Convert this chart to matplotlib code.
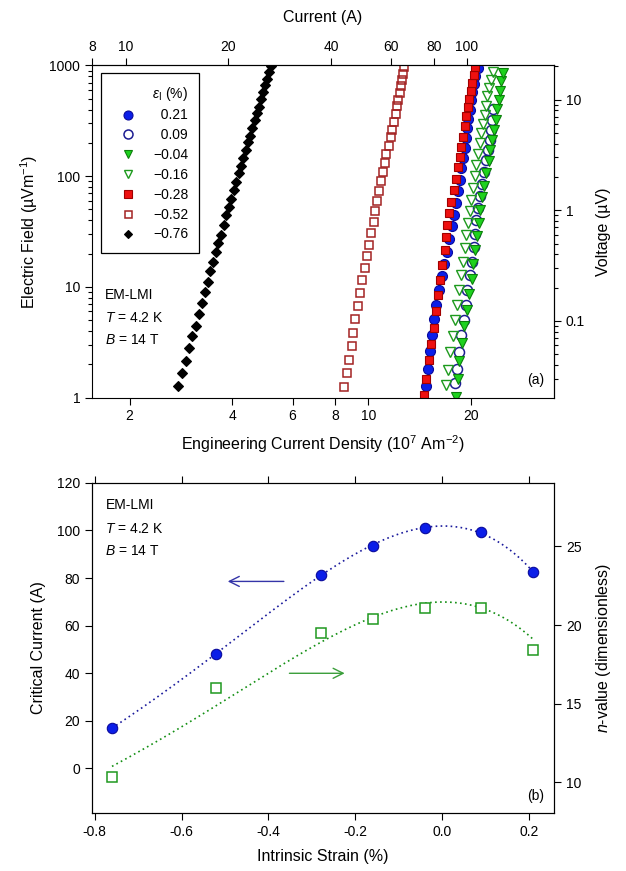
import numpy as np
import matplotlib
matplotlib.use("Agg")
import matplotlib.pyplot as plt
from matplotlib.lines import Line2D
from matplotlib.ticker import FixedLocator, NullLocator, LogLocator, FixedFormatter

plt.rcParams['font.family'] = ['Liberation Sans', 'DejaVu Sans']
plt.rcParams['mathtext.fontset'] = 'custom'
plt.rcParams['mathtext.rm'] = 'Liberation Sans'
plt.rcParams['mathtext.it'] = 'Liberation Sans:italic'
plt.rcParams['axes.unicode_minus'] = False

# ---- panel (a): E-J curves, one per intrinsic strain (%) ----
strain_labels = ["0.21", "0.09", "-0.04", "-0.16", "-0.28", "-0.52", "-0.76"]

# engineering current density (1e7 A/m^2) and electric field (uV/m)
j_p021 = [14.78, 14.98, 15.15, 15.39, 15.60, 15.81, 16.13, 16.43, 16.69, 16.96,
          17.28, 17.55, 17.81, 18.10, 18.30, 18.51, 18.72, 18.93, 19.15, 19.28,
          19.45, 19.62, 19.81, 20.02, 20.16, 20.35, 20.57, 20.95]
e_p021 = [1.27, 1.82, 2.66, 3.67, 5.07, 6.92, 9.45, 12.5, 16.2, 20.8,
          26.8, 35.1, 45.0, 57.4, 73.0, 93.2, 119, 146, 180, 222,
          273, 329, 400, 485, 577, 686, 799, 947]

j_p009 = [17.89, 18.18, 18.43, 18.72, 19.03, 19.28, 19.51, 19.81, 20.16, 20.35,
          20.57, 20.71, 20.95, 21.28, 21.57, 21.81, 22.16, 22.41, 22.67, 22.87,
          23.02, 23.23]
e_p009 = [1.35, 1.82, 2.57, 3.67, 5.03, 6.92, 9.40, 12.7, 16.9, 22.9,
          30.3, 39.9, 51.7, 65.8, 85.4, 109, 139, 174, 214, 264,
          325, 404]

j_m004 = [18.10, 18.30, 18.49, 18.80, 19.12, 19.45, 19.78, 20.07, 20.32, 20.59,
          20.83, 21.05, 21.30, 21.57, 21.86, 22.16, 22.52, 22.76, 23.07, 23.33,
          23.60, 23.86, 24.14, 24.35, 24.51, 24.80]
e_m004 = [1.01, 1.48, 2.16, 3.14, 4.41, 6.24, 8.70, 11.7, 16.1, 21.6,
          28.7, 37.9, 49.9, 65.0, 82.3, 107, 136, 171, 214, 264,
          325, 405, 485, 585, 720, 858]

j_m016 = [16.84, 17.11, 17.40, 17.70, 17.89, 18.14, 18.43, 18.72, 18.93, 19.15,
          19.36, 19.58, 19.81, 20.02, 20.25, 20.49, 20.71, 20.95, 21.19, 21.42,
          21.67, 21.92, 22.07, 22.31, 22.57, 22.83, 23.18]
e_m016 = [1.31, 1.79, 2.57, 3.61, 5.03, 6.85, 9.40, 12.7, 16.9, 22.5,
          29.4, 37.9, 48.2, 61.4, 78.4, 99.8, 125, 157, 200, 246,
          299, 360, 434, 527, 628, 735, 868]

j_m028 = [14.52, 14.72, 15.02, 15.29, 15.54, 15.75, 15.96, 16.18, 16.47, 16.74,
          16.84, 16.99, 17.19, 17.50, 17.81, 18.02, 18.26, 18.51, 18.71, 18.93,
          19.15, 19.36, 19.58, 19.72, 19.98, 20.16, 20.35, 20.49]
e_m028 = [1.06, 1.48, 2.17, 3.07, 4.26, 6.02, 8.52, 11.6, 15.9, 21.4,
          28.0, 36.5, 46.6, 58.1, 75.7, 95.1, 120, 149, 184, 226,
          286, 348, 419, 499, 585, 697, 828, 971]

j_m052 = [8.48, 8.65, 8.80, 8.95, 9.05, 9.17, 9.32, 9.43, 9.59, 9.77,
          9.92, 10.03, 10.22, 10.36, 10.50, 10.61, 10.74, 10.91, 11.03, 11.16,
          11.28, 11.47, 11.62, 11.75, 11.88, 12.02, 12.15, 12.23, 12.35, 12.43,
          12.54, 12.62, 12.71]
e_m052 = [1.24, 1.65, 2.18, 2.91, 3.84, 5.14, 6.68, 8.83, 11.5, 14.8,
          18.9, 24.1, 30.7, 38.7, 48.2, 59.8, 73.6, 89.9, 109, 132,
          158, 189, 225, 264, 307, 365, 428, 492, 566, 649,
          735, 845, 971]

j_m076 = [2.78, 2.85, 2.92, 2.99, 3.05, 3.12, 3.19, 3.25, 3.32, 3.39,
          3.45, 3.51, 3.58, 3.64, 3.71, 3.77, 3.84, 3.91, 3.97, 4.04,
          4.11, 4.18, 4.24, 4.31, 4.38, 4.45, 4.51, 4.58, 4.65, 4.72,
          4.78, 4.85, 4.92, 4.99, 5.05, 5.12, 5.19]
e_m076 = [1.28, 1.65, 2.16, 2.81, 3.58, 4.47, 5.74, 7.17, 8.94, 11.0,
          13.8, 16.7, 20.5, 25.0, 29.7, 36.5, 44.2, 53.2, 62.3, 74.7,
          89.2, 106, 123, 146, 172, 203, 233, 274, 320, 374,
          426, 495, 574, 664, 752, 867, 998]

j_series = [j_p021, j_p009, j_m004, j_m016, j_m028, j_m052, j_m076]
e_series = [e_p021, e_p009, e_m004, e_m016, e_m028, e_m052, e_m076]

# ---- panel (b): critical current and n-value vs intrinsic strain ----
strain = [-0.76, -0.52, -0.28, -0.16, -0.04, 0.09, 0.21]
ic = [17.0, 48.2, 81.5, 93.6, 101.0, 99.2, 82.4]
nval = [10.3, 16.0, 19.5, 20.4, 21.1, 21.1, 18.4]

AMP_PER_J = 5.14      # A per 1e7 A/m^2
LENGTH = 0.0203       # m, voltage tap separation

styles = [
    dict(marker='o', ms=7.2, mfc='#0b1ee8', mec='#0a0a9c', mew=0.8),
    dict(marker='o', ms=7.2, mfc='none', mec='#1c1c92', mew=1.1),
    dict(marker='v', ms=7.0, mfc='#1ed21e', mec='#0b7f0b', mew=0.8),
    dict(marker='v', ms=7.0, mfc='none', mec='#1d9a1d', mew=1.0),
    dict(marker='s', ms=6.0, mfc='#ee1010', mec='#a00000', mew=0.8),
    dict(marker='s', ms=5.6, mfc='none', mec='#a32222', mew=1.1),
    dict(marker='D', ms=4.8, mfc='black', mec='black', mew=0.8),
]

fig = plt.figure(figsize=(6.26, 8.71), dpi=100)
ax = fig.add_axes([0.147, 0.5436, 0.738, 0.3812])

for j, e, st in zip(j_series, e_series, styles):
    ax.plot(j, e, linestyle='none', **st)

ax.set_xscale('log')
ax.set_yscale('log')
ax.set_xlim(1.552, 35.0)
ax.set_ylim(1, 1000)

ax.xaxis.set_major_locator(FixedLocator([2, 4, 6, 8, 10, 20]))
ax.xaxis.set_major_formatter(FixedFormatter(['2', '4', '6', '8', '10', '20']))
ax.xaxis.set_minor_locator(NullLocator())
ax.yaxis.set_major_locator(FixedLocator([1, 10, 100, 1000]))
ax.yaxis.set_major_formatter(FixedFormatter(['1', '10', '100', '1000']))
ax.yaxis.set_minor_locator(LogLocator(base=10, subs=np.arange(2, 10)))
ax.yaxis.set_minor_formatter(FixedFormatter([]))
ax.tick_params(which='both', direction='out', labelsize=10, width=0.8)
ax.tick_params(which='major', length=5)
ax.tick_params(which='minor', length=3)
ax.set_xlabel(r'Engineering Current Density (10$^{7}$ Am$^{-2}$)', fontsize=11.5, labelpad=7)
ax.set_ylabel(r'Electric Field (µVm$^{-1}$)', fontsize=11.5, labelpad=7)

top = ax.secondary_xaxis('top', functions=(lambda x: x * AMP_PER_J, lambda x: x / AMP_PER_J))
top.xaxis.set_major_locator(FixedLocator([8, 10, 20, 40, 60, 80, 100]))
top.xaxis.set_major_formatter(FixedFormatter(['8', '10', '20', '40', '60', '80', '100']))
top.xaxis.set_minor_locator(NullLocator())
top.tick_params(which='both', direction='out', labelsize=10, length=5, width=0.8)
top.set_xlabel('Current (A)', fontsize=11.5, labelpad=13)

right = ax.secondary_yaxis('right', functions=(lambda x: x * LENGTH, lambda x: x / LENGTH))
right.yaxis.set_major_locator(FixedLocator([0.1, 1, 10]))
right.yaxis.set_major_formatter(FixedFormatter(['0.1', '1', '10']))
right.yaxis.set_minor_locator(LogLocator(base=10, subs=np.arange(2, 10)))
right.yaxis.set_minor_formatter(FixedFormatter([]))
right.tick_params(which='both', direction='out', labelsize=10, width=0.8)
right.tick_params(which='major', length=5)
right.tick_params(which='minor', length=3)
right.set_ylabel('Voltage (µV)', fontsize=11.5, labelpad=8)

for s in ax.spines.values():
    s.set_linewidth(0.8)

leg_labels = ['\u2212' + s[1:] if s.startswith('-') else '\u2007' + s for s in strain_labels]
handles = [Line2D([], [], linestyle='none', **st) for st in styles]
leg = ax.legend(handles, leg_labels, title=r'$\varepsilon_{\mathrm{I}}$ (%)', loc='upper left',
                bbox_to_anchor=(0.019, 0.976), borderaxespad=0, fancybox=False,
                edgecolor='black', framealpha=1, fontsize=10, title_fontsize=10,
                alignment='right', handlelength=2.3, handletextpad=0.65,
                labelspacing=0.42, borderpad=0.8, markerscale=0.9)
leg.get_frame().set_linewidth(0.9)

ax.text(0.028, 0.308, 'EM-LMI', transform=ax.transAxes, fontsize=10, va='center')
ax.text(0.028, 0.240, r'$T$ = 4.2 K', transform=ax.transAxes, fontsize=10, va='center')
ax.text(0.028, 0.173, r'$B$ = 14 T', transform=ax.transAxes, fontsize=10, va='center')
ax.text(0.978, 0.054, '(a)', transform=ax.transAxes, fontsize=10, va='center', ha='right')

# ---- panel (b) ----
ax2 = fig.add_axes([0.147, 0.0666, 0.738, 0.379])
blue = '#1a1a9c'
green = '#138f13'
xfit = np.linspace(min(strain), max(strain), 200)
ic_fit = np.polyval(np.polyfit(strain, ic, 4), xfit)
# n-value follows Ic through a straight-line relation
n_fit = np.polyval(np.polyfit(ic, nval, 1), ic_fit)

ax2.plot(xfit, ic_fit, linestyle=(0, (1, 2)), color=blue, lw=1.2)
ax2.plot(strain, ic, linestyle='none', marker='o', ms=7.5, mfc='#0b1ee8', mec='#0a0a9c', mew=0.8)
ax2.set_xlim(-0.806, 0.2575)
ax2.set_ylim(-18.7, 120)
ax2.set_xticks([-0.8, -0.6, -0.4, -0.2, 0.0, 0.2])
ax2.set_xticklabels(['-0.8', '-0.6', '-0.4', '-0.2', '0.0', '0.2'])
ax2.set_yticks([0, 20, 40, 60, 80, 100, 120])
ax2.tick_params(direction='out', labelsize=10, length=5, width=0.8, top=True)
ax2.set_xlabel('Intrinsic Strain (%)', fontsize=11.5, labelpad=7)
ax2.set_ylabel('Critical Current (A)', fontsize=11.5, labelpad=8)

ax3 = ax2.twinx()
ax3.plot(xfit, n_fit, linestyle=(0, (1, 2)), color=green, lw=1.2)
ax3.plot(strain, nval, linestyle='none', marker='s', ms=6.6, mfc='white', mec='#1f991f', mew=1.1)
ax3.set_ylim(8.03, 29.05)
ax3.set_yticks([10, 15, 20, 25])
ax3.tick_params(direction='out', labelsize=10, length=5, width=0.8)
ax3.set_ylabel(r'$n$-value (dimensionless)', fontsize=11.5, labelpad=9)
for s in list(ax2.spines.values()) + list(ax3.spines.values()):
    s.set_linewidth(0.8)

ax2.annotate('', xy=(-0.50, 78.6), xytext=(-0.358, 78.6),
             arrowprops=dict(arrowstyle='->', color='#3434a8', lw=1.0, mutation_scale=18))
ax2.annotate('', xy=(-0.218, 40.0), xytext=(-0.358, 40.0),
             arrowprops=dict(arrowstyle='->', color='#3a9e3a', lw=1.0, mutation_scale=18))

ax2.text(0.029, 0.934, 'EM-LMI', transform=ax2.transAxes, fontsize=10, va='center')
ax2.text(0.029, 0.861, r'$T$ = 4.2 K', transform=ax2.transAxes, fontsize=10, va='center')
ax2.text(0.029, 0.793, r'$B$ = 14 T', transform=ax2.transAxes, fontsize=10, va='center')
ax2.text(0.978, 0.05, '(b)', transform=ax2.transAxes, fontsize=10, va='center', ha='right')

fig.savefig('out.png', dpi=100)
